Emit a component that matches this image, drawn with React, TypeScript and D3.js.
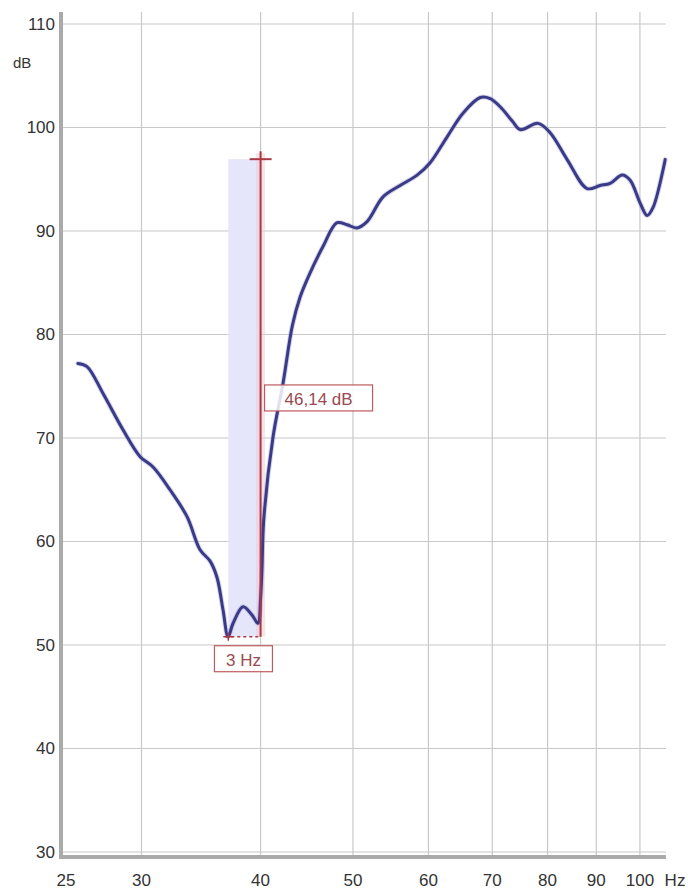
import React from "react";
import * as d3 from "d3";

const freqs = [25.73, 26.3, 27.34, 28.69, 29.9, 30.85, 32.14, 33.49, 34.56, 35.41, 36.01, 36.53, 36.98, 37.43, 38.34, 39.18, 39.75, 40.0, 40.14, 40.3, 41.22, 42.23, 43.2, 44.0, 44.9, 46.51, 48.11, 49.29, 50.5, 51.73, 53.77, 56.03, 58.38, 60.25, 62.77, 65.25, 67.99, 69.65, 71.35, 73.5, 74.89, 78.2, 80.5, 83.88, 88.03, 90.84, 93.06, 95.8, 97.67, 100.05, 101.76, 103.25, 106.29];
const dbs = [77.2, 76.9, 74.3, 70.8, 68.2, 67.2, 65.0, 62.4, 59.2, 58.1, 56.5, 53.4, 50.8, 52.1, 53.7, 52.9, 52.1, 54.5, 57.5, 62.0, 70.1, 75.3, 80.9, 83.6, 85.6, 88.5, 90.8, 90.6, 90.3, 90.9, 93.3, 94.4, 95.4, 96.6, 99.1, 101.4, 102.9, 102.8, 102.0, 100.6, 99.8, 100.4, 99.5, 96.9, 94.1, 94.4, 94.6, 95.4, 94.9, 92.7, 91.5, 92.3, 96.9];

const xTicks = [25, 30, 40, 50, 60, 70, 80, 90, 100];
const xGrid = [30, 40, 50, 60, 70, 80, 90, 100];
const yTicks = [30, 40, 50, 60, 70, 80, 90, 100, 110];

const markerF0 = 37;
const markerF1 = 40;
const markerLow = 50.8;
const markerHigh = 96.94;
const dbLabel = "46,14 dB";
const hzLabel = "3 Hz";

export default function App() {
  const x = d3.scaleLog().domain([24.7, 106.5]).range([61, 666]);
  const y = d3.scaleLinear().domain([30, 110]).range([852, 24]);
  const top = 12;
  const bottom = 857;
  const left = 61;
  const right = 666;

  const pts: [number, number][] = freqs.map((f, i) => [x(f), y(dbs[i])]);
  const line = d3.line().curve(d3.curveCatmullRom.alpha(0.5))(pts) || "";

  const mx0 = x(markerF0);
  const mx1 = x(markerF1);
  const myL = y(markerLow);
  const myH = y(markerHigh);
  const font = "'Liberation Sans', Arial, sans-serif";
  const red = "#a83a48";
  const labelCol = "#9a4a50";

  return (
    <svg width={688} height={890} style={{ position: "absolute", left: 0, top: 0, background: "#fff" }}>
      {yTicks.map((t) => (
        <line key={"h" + t} x1={left} x2={right} y1={y(t)} y2={y(t)} stroke="#c8c8c8" strokeWidth={1.2} />
      ))}
      {xGrid.map((t) => (
        <line key={"v" + t} x1={x(t)} x2={x(t)} y1={top} y2={bottom} stroke="#c8c8c8" strokeWidth={1.2} />
      ))}
      <rect x={mx0} y={myH} width={mx1 - mx0} height={myL - myH} fill="#e6e6fb" />
      <line x1={mx1} x2={mx1} y1={myH - 6} y2={myL} stroke="#f4c8d0" strokeWidth={9} opacity={0.5} />
      <path d={line} fill="none" stroke="#8888cc" strokeWidth={5} opacity={0.35} strokeLinecap="round" />
      <path d={line} fill="none" stroke="#3a3a86" strokeWidth={3} strokeLinecap="round" strokeLinejoin="round" />
      <line x1={mx1} x2={mx1} y1={myH - 8} y2={myL} stroke={red} strokeWidth={2} />
      <line x1={mx1 - 11} x2={mx1 + 11} y1={myH} y2={myH} stroke={red} strokeWidth={2} />
      <line x1={mx0 - 3} x2={mx1} y1={myL} y2={myL} stroke={red} strokeWidth={1.5} strokeDasharray="3,3" />
      <line x1={mx0 - 5} x2={mx0 + 5} y1={myL} y2={myL} stroke={red} strokeWidth={1.5} />
      <line x1={mx0} x2={mx0} y1={myL - 4} y2={myL + 4} stroke={red} strokeWidth={1.5} />
      <rect x={mx1 + 4} y={y(markerLow + 46.14 / 2) - 13} width={108} height={26} fill="#fff" fillOpacity={0.85} stroke="#c05a60" strokeWidth={1.2} />
      <text x={mx1 + 58} y={y(markerLow + 46.14 / 2) + 1} dy="0.35em" textAnchor="middle" fontFamily={font} fontSize={17} fill={labelCol}>{dbLabel}</text>
      <rect x={(mx0 + mx1) / 2 - 30} y={myL + 9} width={58} height={26} fill="#fff" fillOpacity={0.85} stroke="#c05a60" strokeWidth={1.2} />
      <text x={(mx0 + mx1) / 2 - 1} y={myL + 23} dy="0.35em" textAnchor="middle" fontFamily={font} fontSize={17} fill={labelCol}>{hzLabel}</text>
      <line x1={left} x2={left} y1={top} y2={bottom + 2} stroke="#aaaaaa" strokeWidth={4} />
      <line x1={left - 2} x2={right} y1={bottom} y2={bottom} stroke="#aaaaaa" strokeWidth={4} />
      {yTicks.map((t) => (
        <text key={"yl" + t} x={55} y={y(t)} dy="0.35em" textAnchor="end" fontFamily={font} fontSize={17} fill="#333">{t}</text>
      ))}
      <text x={13} y={63} dy="0.35em" fontFamily={font} fontSize={15} fill="#333">dB</text>
      {xTicks.map((t) => (
        <text key={"xl" + t} x={x(t)} y={880} dy="0.35em" textAnchor="middle" fontFamily={font} fontSize={17} fill="#333">{t}</text>
      ))}
      <text x={675} y={880} dy="0.35em" textAnchor="middle" fontFamily={font} fontSize={17} fill="#333">Hz</text>
    </svg>
  );
}
